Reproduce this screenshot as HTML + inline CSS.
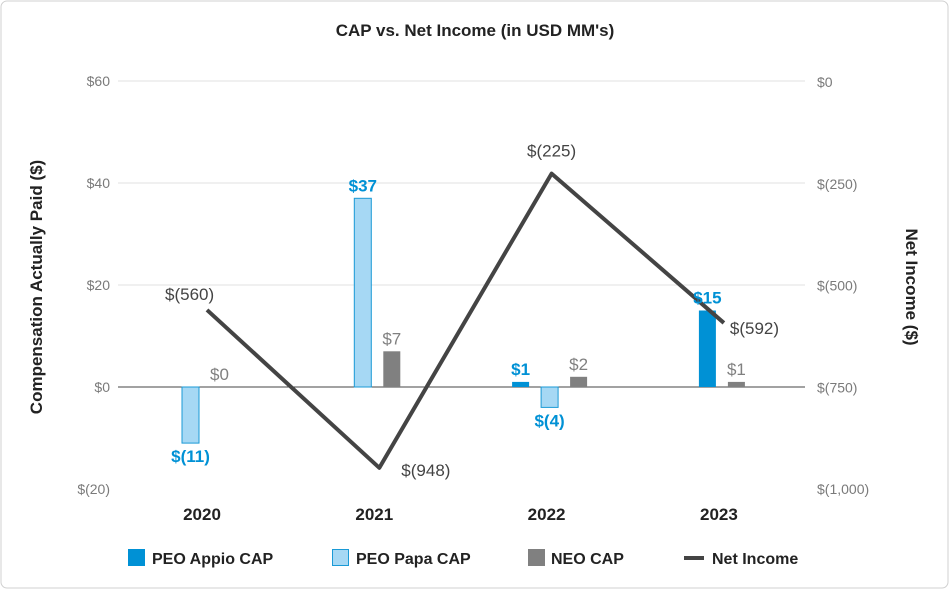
<!DOCTYPE html>
<html><head><meta charset="utf-8"><style>
body{margin:0;background:#fff;}
svg text{font-family:"Liberation Sans",sans-serif;}
</style></head><body>
<svg id="c" width="950" height="590" xmlns="http://www.w3.org/2000/svg">
<rect x="1" y="1" width="947" height="587" rx="6" fill="#fff" stroke="#d0d0d0"/>
<text x="475" y="36" text-anchor="middle" font-size="17" font-weight="bold" fill="#222">CAP vs. Net Income (in USD MM's)</text>
<text transform="translate(42,287) rotate(-90)" text-anchor="middle" font-size="17" font-weight="bold" fill="#222">Compensation Actually Paid ($)</text>
<text transform="translate(906,287) rotate(90)" text-anchor="middle" font-size="17" font-weight="bold" fill="#222">Net Income ($)</text>
<g id="grid"></g><g id="bars"></g><g id="line"></g><g id="labels"></g>
<g>
<rect x="128" y="549" width="17" height="17" fill="#0091d5"/>
<text x="152" y="564" font-size="16" font-weight="bold" fill="#222">PEO Appio CAP</text>
<rect x="332.5" y="549.5" width="16" height="16" fill="#a6d8f4" stroke="#1a9ad6"/>
<text x="356" y="564" font-size="16" font-weight="bold" fill="#222">PEO Papa CAP</text>
<rect x="528" y="549" width="17" height="17" fill="#808080"/>
<text x="551" y="564" font-size="16" font-weight="bold" fill="#222">NEO CAP</text>
<line x1="684" y1="558" x2="704" y2="558" stroke="#444" stroke-width="4"/>
<text x="712" y="564" font-size="16" font-weight="bold" fill="#222">Net Income</text>
</g>
</svg>
<script>
const categories=["2020","2021","2022","2023"];
const appio=[null,null,1,15];
const papa=[-11,37,-4,null];
const neo=[0,7,2,1];
const netIncome=[-560,-948,-225,-592];
const leftTicks=[60,40,20,0,-20];
const leftTickLabels=["$60","$40","$20","$0","$(20)"];
const rightTicks=[0,-250,-500,-750,-1000];
const rightTickLabels=["$0","$(250)","$(500)","$(750)","$(1,000)"];

const NS="http://www.w3.org/2000/svg";
const yL=v=>387-(v/20)*102;
const yR=v=>82+(-v/1000)*407;
const cx=i=>202+172.3*i;
function mk(parent,tag,attrs,txt){const e=document.createElementNS(NS,tag);for(const k in attrs)e.setAttribute(k,attrs[k]);if(txt!=null)e.textContent=txt;document.getElementById(parent).appendChild(e);return e;}
function fmt(v){return v<0?"$("+Math.abs(v)+")":"$"+v;}

leftTicks.forEach((t,i)=>{
  if(t!==0&&t!==-20){const g=mk("grid","line",{x1:118,x2:805,y1:yL(t),y2:yL(t),stroke:"#e2e2e2","stroke-width":1});
  
  }
  const l=mk("labels","text",{x:110,y:yL(t)+5,"text-anchor":"end","font-size":14,fill:"#7a7a7a"},leftTickLabels[i]);
  
  
});
rightTicks.forEach((t,i)=>{
  const l=mk("labels","text",{x:817,y:yR(t)+5,"font-size":14,fill:"#7a7a7a"},rightTickLabels[i]);
  
  
});
const zl=mk("grid","line",{x1:118,x2:805,y1:yL(0),y2:yL(0),stroke:"#444","stroke-width":1});



categories.forEach((c,i)=>{
  const t=mk("labels","text",{x:cx(i),y:520,"text-anchor":"middle","font-size":17,"font-weight":"bold",fill:"#222"},c);
  
  
});

const series=[
 {d:appio,fill:"#0091d5",stroke:"none",lc:"#0091d5",bold:true,name:"bar-appio"},
 {d:papa,fill:"#a6d8f4",stroke:"#1a9ad6",lc:"#0091d5",bold:true,name:"bar-papa"},
 {d:neo,fill:"#808080",stroke:"none",lc:"#808080",bold:false,name:"bar-neo"}];
categories.forEach((c,i)=>{
  const present=series.filter(s=>s.d[i]!==null);
  const n=present.length;
  present.forEach((s,k)=>{
    const v=s.d[i];
    const center=cx(i)+3+(k-(n-1)/2)*29;
    const x=center-8.5;
    const y0=yL(0),y1=yL(v);
    const r=mk("bars","rect",{x:x,y:Math.min(y0,y1),width:17,height:Math.abs(y1-y0),fill:s.fill,stroke:s.stroke});
    
    
    const ly=v>=0?Math.min(y0,y1)-7:Math.max(y0,y1)+19;
    const l=mk("labels","text",{x:center,y:ly,"text-anchor":"middle","font-size":17,"font-weight":s.bold?"bold":"normal",fill:s.lc},fmt(v));
    
    
  });
});

const pts=netIncome.map((v,i)=>[cx(i)+5,yR(v)]);
const pl=mk("line","polyline",{points:pts.map(p=>p.join(",")).join(" "),fill:"none",stroke:"#444","stroke-width":4,"stroke-linejoin":"round"});


const lo=[[-42,-10,"start"],[22,8,"start"],[0,-17,"middle"],[6,11,"start"]];
netIncome.forEach((v,i)=>{
  const [dx,dy,a]=lo[i];
  const l=mk("labels","text",{x:pts[i][0]+dx,y:pts[i][1]+dy,"text-anchor":a,"font-size":17,fill:"#444"},fmt(v));
  
  
});
</script>
</body></html>
